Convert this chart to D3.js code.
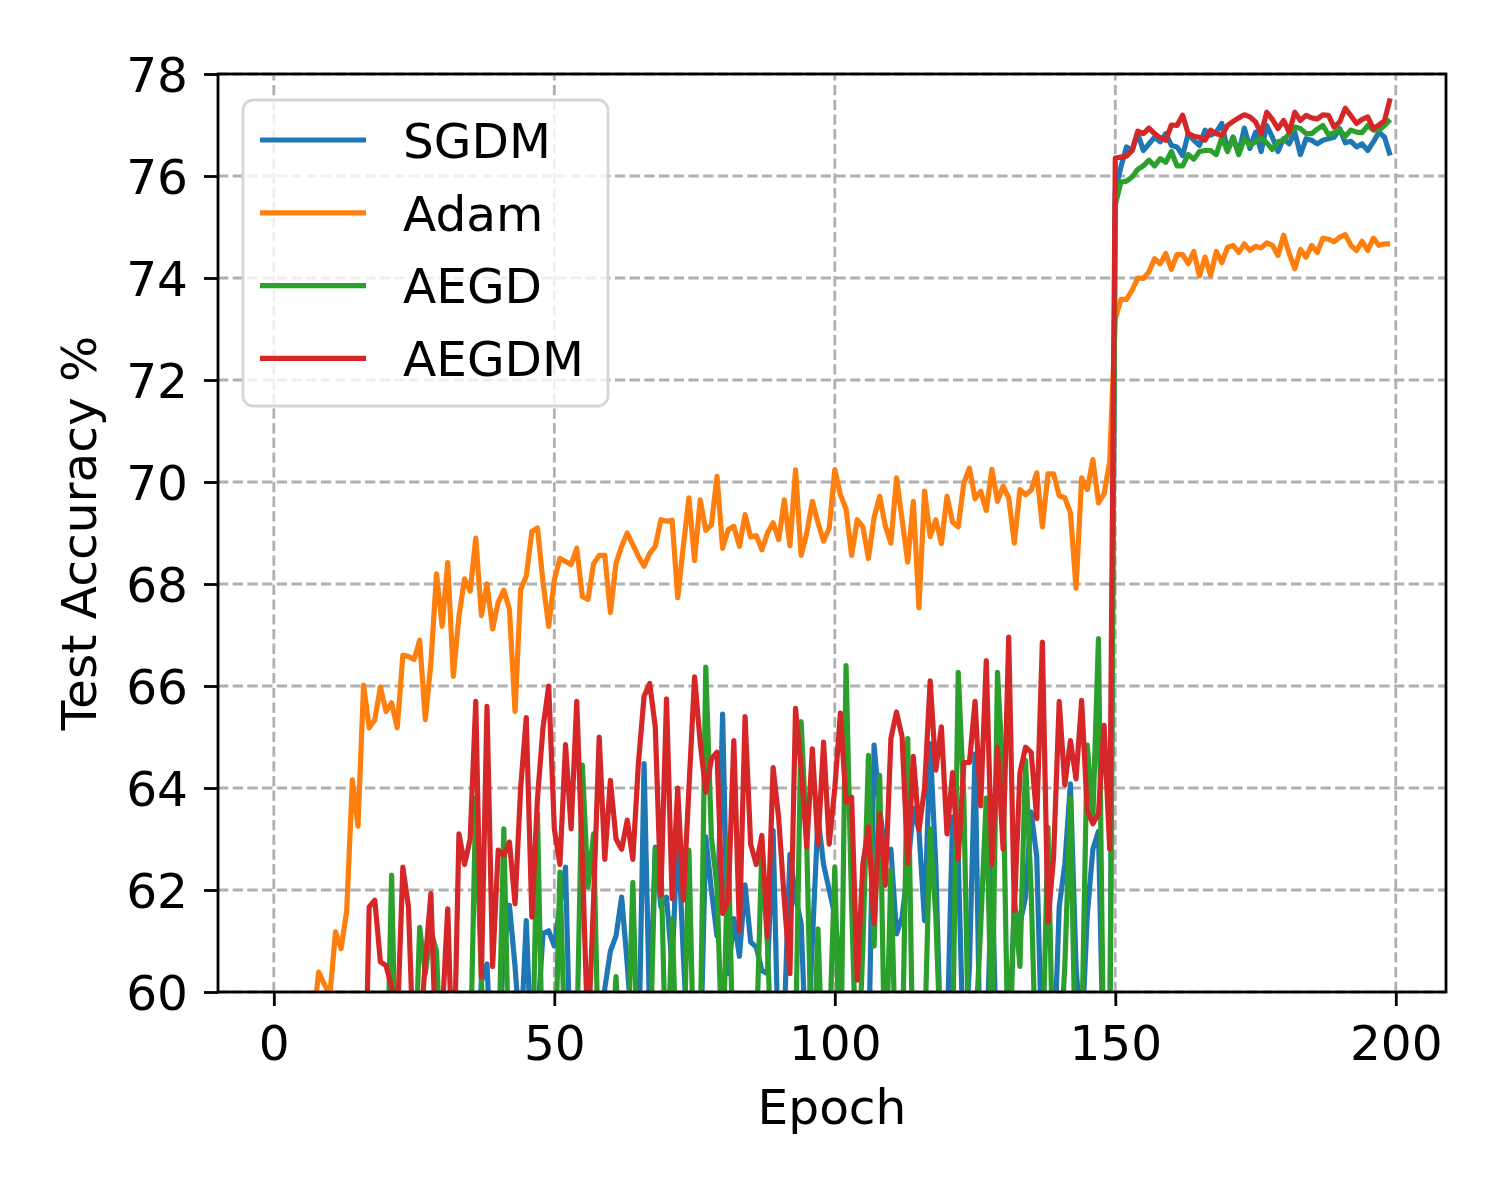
<!DOCTYPE html>
<html>
<head>
<meta charset="utf-8">
<script src="https://cdn.jsdelivr.net/npm/d3@7"></script>
<style>
  body { margin: 0; background: #fff; }
  text { font-family: "DejaVu Sans", sans-serif; fill: #000; }
</style>
</head>
<body>
<script>
const width = 1500;
const height = 1200;

const seriesNames = ['SGDM', 'Adam', 'AEGD', 'AEGDM'];
const colors = ['#1f77b4', '#ff7f0e', '#2ca02c', '#d62728'];
const xTicks = [0, 50, 100, 150, 200];
const yTicks = [60, 62, 64, 66, 68, 70, 72, 74, 76, 78];

// test accuracy per epoch (0..199)
const sgdm = [
  45, 48, 50, 51.5, 52, 53, 53.5, 54, 54.5, 55,
  55.2, 55.5, 55.8, 56, 56.3, 56.1, 56.6, 56.4, 56.9, 56.7,
  57.0, 56.8, 57.3, 57.1, 57.5, 57.2, 57.6, 57.4, 57.8, 57.5,
  57.9, 57.6, 58.0, 57.7, 58.1, 57.9, 58.5, 60.2, 60.55, 58.0,
  59.0, 60.8, 61.7, 60.5, 59.0, 61.4, 58.5, 59.5, 61.15, 61.2,
  60.9, 61.7, 62.45, 58.0, 57.5, 58.5, 58.0, 59.0, 58.5, 60.07,
  60.8, 61.1, 61.86, 60.55, 59.0, 58.5, 64.48, 59.5, 62.84, 61.67,
  61.86, 60.5, 63.2, 60.72, 58.5, 59.0, 58.5, 63.04, 62.0, 61.1,
  65.45, 60.36, 61.44, 60.7, 62.1, 60.98, 60.88, 60.42, 60.36, 63.17,
  58.5, 59.5, 62.7, 61.86, 61.34, 58.5, 61.0, 63.43, 62.5, 62.0,
  61.5, 60.5, 58.0, 58.5, 58.0, 59.0, 58.5, 64.84, 63.6, 62.7,
  62.8, 61.14, 61.47, 62.4, 63.6, 63.17, 61.4, 64.87, 62.5, 58.5,
  59.0, 63.43, 62.65, 58.5, 60.5, 64.67, 58.0, 58.5, 62.5, 58.0,
  58.5, 59.0, 61.67, 61.34, 61.86, 63.53, 62.65, 58.5, 59.0, 58.5,
  61.67, 62.5, 64.08, 60.5, 59.0, 61.5, 62.8, 63.15, 58.0, 58.5,
  75.7, 76.18, 76.57, 76.5, 76.83, 76.5, 76.63, 76.76, 76.67, 76.83,
  76.6, 76.57, 76.4, 76.83, 76.7, 76.6, 76.9, 76.8, 76.86, 77.03,
  76.5, 76.76, 76.44, 76.94, 76.54, 76.86, 76.48, 76.99, 76.76, 76.48,
  76.73, 76.63, 76.86, 76.42, 76.73, 76.7, 76.63, 76.7, 76.73, 76.76,
  76.93, 76.65, 76.68, 76.57, 76.63, 76.5, 76.67, 76.86, 76.76, 76.4
];
const adam = [
  52.0, 55.0, 56.5, 57.3, 58.0, 58.6, 59.0, 59.4, 60.39, 60.15,
  59.95, 61.18, 60.85, 61.6, 64.16, 63.25, 66.02, 65.18, 65.34, 65.98,
  65.5, 65.67, 65.18, 66.6, 66.58, 66.52, 66.9, 65.34, 66.45, 68.2,
  67.17, 68.42, 66.19, 67.37, 68.1, 67.86, 68.9, 67.38, 68.0, 67.12,
  67.64, 67.88, 67.5, 65.5, 67.89, 68.15, 69.03, 69.1, 68.02, 67.17,
  68.08, 68.5, 68.44, 68.38, 68.7, 67.75, 67.7, 68.4, 68.56, 68.56,
  67.44, 68.41, 68.74, 69.0, 68.77, 68.54, 68.35, 68.6, 68.74, 69.26,
  69.23, 69.25, 67.73, 68.74, 69.69, 68.46, 69.65, 69.05, 69.16, 70.11,
  68.7, 69.07, 69.13, 68.74, 69.36, 68.92, 68.95, 68.67, 69.0, 69.2,
  68.87, 69.65, 68.75, 70.24, 68.56, 69.0, 69.62, 69.2, 68.84, 69.1,
  70.24, 69.75, 69.47, 68.56, 69.26, 69.12, 68.5, 69.3, 69.72, 69.14,
  68.8, 70.08, 69.26, 68.43, 69.62, 67.53, 69.82, 68.93, 69.26, 68.79,
  69.72, 69.21, 69.12, 69.98, 70.27, 69.67, 69.82, 69.44, 70.25, 69.62,
  69.92, 69.69, 68.8, 69.85, 69.75, 69.84, 70.18, 69.12, 70.16, 70.16,
  69.73, 69.69, 69.4, 67.92, 70.08, 69.85, 70.44, 69.59, 69.77, 70.4,
  73.2, 73.58, 73.58, 73.76, 74.0, 73.99, 74.12, 74.38, 74.28, 74.48,
  74.17, 74.46, 74.46, 74.28, 74.52, 74.04, 74.41, 74.05, 74.52, 74.3,
  74.6, 74.64, 74.5, 74.67, 74.54, 74.62, 74.59, 74.69, 74.64, 74.44,
  74.84, 74.48, 74.18, 74.56, 74.41, 74.64, 74.5, 74.78, 74.76, 74.71,
  74.8, 74.85, 74.64, 74.54, 74.72, 74.54, 74.78, 74.64, 74.67, 74.67
];
const aegd = [
  50, 52, 53, 54, 54.5, 55, 55.5, 56, 56.2, 56.5,
  56.7, 56.9, 57.0, 57.2, 57.3, 57.5, 57.4, 57.6, 57.8, 57.5,
  57.5, 62.29, 57.0, 57.5, 58.0, 58.0, 61.27, 60.36, 61.2, 60.8,
  58.0, 57.5, 58.0, 57.0, 58.0, 58.5, 63.8, 60.2, 58.0, 57.5,
  58.5, 63.2, 58.0, 57.5, 58.5, 57.0, 58.0, 63.5, 58.0, 57.5,
  58.0, 62.35, 58.5, 58.0, 59.0, 64.45, 62.06, 63.1, 58.0, 57.5,
  58.5, 60.3, 58.0, 58.5, 62.15, 58.0, 57.5, 58.5, 62.8, 62.6,
  58.0, 61.44, 58.0, 58.5, 62.78, 58.0, 59.0, 66.37, 63.04, 62.06,
  58.5, 63.0, 58.0, 57.5, 58.5, 58.0, 59.0, 62.84, 60.9, 58.0,
  57.5, 58.5, 58.0, 59.0, 65.3, 62.9, 58.0, 61.24, 58.0, 59.0,
  62.45, 58.0, 66.4, 61.7, 58.0, 60.9, 64.64, 60.9, 64.25, 58.0,
  62.4, 58.0, 58.5, 64.97, 58.0, 58.5, 59.0, 63.2, 61.5, 58.5,
  58.0, 59.0, 66.27, 63.8, 58.0, 59.0, 61.27, 63.8, 59.0, 66.27,
  64.2, 58.0, 61.86, 60.5, 64.54, 62.0, 58.0, 58.5, 63.23, 58.0,
  58.5, 60.5, 63.8, 58.0, 59.0, 64.84, 63.4, 66.93, 58.0, 58.5,
  75.44, 75.88, 75.9, 75.98, 76.13, 76.2, 76.31, 76.2, 76.34, 76.27,
  76.48, 76.2, 76.2, 76.42, 76.33, 76.48, 76.5, 76.5, 76.42, 76.76,
  76.48, 76.76, 76.42, 76.73, 76.6, 76.67, 76.75, 76.65, 76.52, 76.67,
  76.7, 76.83, 76.96, 76.93, 76.83, 76.83, 76.92, 76.99, 76.81, 76.85,
  76.9, 76.78, 76.9, 76.86, 76.85, 76.99, 76.9, 76.9, 76.99, 77.11
];
const aegdm = [
  48, 50, 51, 52, 52.5, 53, 53.5, 54, 54.5, 55,
  55.3, 55.6, 55.8, 56, 56.2, 56.4, 56.5, 61.67, 61.8, 60.59,
  60.52, 60.1, 59.3, 62.45, 61.67, 58.5, 59.0, 60.6, 61.93, 58.5,
  59.5, 61.63, 58.0, 63.1, 62.5, 63.0, 65.7, 60.3, 65.6, 60.5,
  62.78, 62.68, 62.94, 61.73, 64.0, 65.38, 61.47, 63.8, 65.2, 66.0,
  63.2, 62.5, 64.85, 63.2, 65.7, 62.6, 59.0, 61.8, 65.0, 62.6,
  64.15, 63.0, 62.8, 63.37, 62.6, 64.5, 65.8, 66.05, 65.2, 61.9,
  65.75, 61.83, 64.0, 61.8, 64.0, 66.18, 64.9, 63.92, 64.57, 64.7,
  61.54, 61.8, 64.93, 61.2, 65.4, 62.9, 62.5, 63.07, 61.08, 64.4,
  63.4, 61.8, 60.36, 65.56, 64.4, 62.84, 64.77, 62.9, 64.9, 62.9,
  64.0, 65.47, 63.72, 63.82, 60.23, 62.5, 63.24, 61.34, 63.5, 62.09,
  64.97, 65.49, 65.0, 62.52, 64.62, 63.18, 64.0, 66.1, 64.35, 65.2,
  63.1, 64.3, 62.6, 64.5, 64.5, 65.7, 63.65, 66.5, 62.5, 64.8,
  62.8, 66.96, 61.6, 64.3, 64.8, 64.7, 63.4, 66.86, 61.37, 62.65,
  65.7, 64.06, 64.93, 64.18, 65.72, 63.56, 63.3, 63.5, 65.23, 62.8,
  76.35, 76.37, 76.39, 76.5, 76.88, 76.83, 76.94, 76.83, 76.75, 76.7,
  77.0, 76.99, 77.19, 76.83, 76.78, 76.76, 76.7, 76.9, 76.83, 76.8,
  76.99, 77.07, 77.14, 77.2, 77.16, 77.06, 76.83, 77.25, 77.11, 76.93,
  77.09, 76.86, 77.25, 77.09, 77.19, 77.14, 77.12, 77.2, 77.19, 76.96,
  77.06, 77.33, 77.18, 77.03, 77.11, 77.16, 76.93, 77.0, 77.09, 77.52
];

const allSeries = [sgdm, adam, aegd, aegdm];

const plot = { left: 218, right: 1446, top: 74, bottom: 992 };
const fontSize = 48.6;

const x = d3.scaleLinear().domain([-9.95, 208.95]).range([plot.left, plot.right]);
const y = d3.scaleLinear().domain([60, 78]).range([plot.bottom, plot.top]);

const svg = d3.select('body')
  .append('svg')
  .attr('width', width)
  .attr('height', height);

svg.append('defs').append('clipPath')
  .attr('id', 'plotClip')
  .append('rect')
    .attr('x', plot.left)
    .attr('y', plot.top)
    .attr('width', plot.right - plot.left)
    .attr('height', plot.bottom - plot.top);

// grid
const grid = svg.append('g')
  .attr('stroke', '#b0b0b0')
  .attr('stroke-width', 2.8)
  .attr('stroke-dasharray', '10.3,4.4');
grid.selectAll('.vgrid')
  .data(xTicks)
  .join('line')
    .attr('x1', d => x(d))
    .attr('x2', d => x(d))
    .attr('y1', plot.bottom)
    .attr('y2', plot.top);
grid.selectAll('.hgrid')
  .data(yTicks)
  .join('line')
    .attr('x1', plot.left)
    .attr('x2', plot.right)
    .attr('y1', d => y(d))
    .attr('y2', d => y(d));

// lines
const line = d3.line()
  .x((d, i) => x(i))
  .y(d => y(d));

svg.append('g')
  .attr('clip-path', 'url(#plotClip)')
  .selectAll('path')
  .data(allSeries)
  .join('path')
    .attr('d', line)
    .attr('fill', 'none')
    .attr('stroke', (d, i) => colors[i])
    .attr('stroke-width', 5.2)
    .attr('stroke-linejoin', 'round');

// frame
svg.append('rect')
  .attr('x', plot.left)
  .attr('y', plot.top)
  .attr('width', plot.right - plot.left)
  .attr('height', plot.bottom - plot.top)
  .attr('fill', 'none')
  .attr('stroke', '#000')
  .attr('stroke-width', 2.8);

// axes
const xAxis = svg.append('g')
  .attr('transform', `translate(0,${plot.bottom})`)
  .call(d3.axisBottom(x).tickValues(xTicks).tickSize(14).tickPadding(12).tickFormat(d3.format('d')));
const yAxis = svg.append('g')
  .attr('transform', `translate(${plot.left},0)`)
  .call(d3.axisLeft(y).tickValues(yTicks).tickSize(14).tickPadding(16).tickFormat(d3.format('d')));

[xAxis, yAxis].forEach(g => {
  g.select('.domain').remove();
  g.selectAll('.tick line').attr('stroke', '#000').attr('stroke-width', 2.8);
  g.selectAll('.tick text')
    .style('font-family', '"DejaVu Sans", sans-serif')
    .style('font-size', fontSize + 'px')
    .attr('fill', '#000');
});
xAxis.selectAll('.tick text').attr('dy', null).attr('y', 68);
yAxis.selectAll('.tick text').attr('dy', null).attr('y', 17.7);

svg.append('text')
  .attr('x', (plot.left + plot.right) / 2)
  .attr('y', 1124)
  .attr('text-anchor', 'middle')
  .style('font-size', fontSize + 'px')
  .text('Epoch');

svg.append('text')
  .attr('transform', `translate(96,${(plot.top + plot.bottom) / 2}) rotate(-90)`)
  .attr('text-anchor', 'middle')
  .style('font-size', fontSize + 'px')
  .text('Test Accuracy %');

// legend
const legend = svg.append('g');
legend.append('rect')
  .attr('x', 243)
  .attr('y', 100)
  .attr('width', 365)
  .attr('height', 306)
  .attr('rx', 10)
  .attr('fill', 'rgba(255,255,255,0.8)')
  .attr('stroke', '#d6d6d6')
  .attr('stroke-width', 2.8);

const entry = legend.selectAll('.entry')
  .data(seriesNames)
  .join('g')
    .attr('transform', (d, i) => `translate(0,${140 + i * 72.8})`);
entry.append('line')
  .attr('x1', 260)
  .attr('x2', 366)
  .attr('stroke', (d, i) => colors[i])
  .attr('stroke-width', 5.2);
entry.append('text')
  .attr('x', 403)
  .attr('y', 17.7)
  .style('font-size', fontSize + 'px')
  .text(d => d);
</script>
</body>
</html>
